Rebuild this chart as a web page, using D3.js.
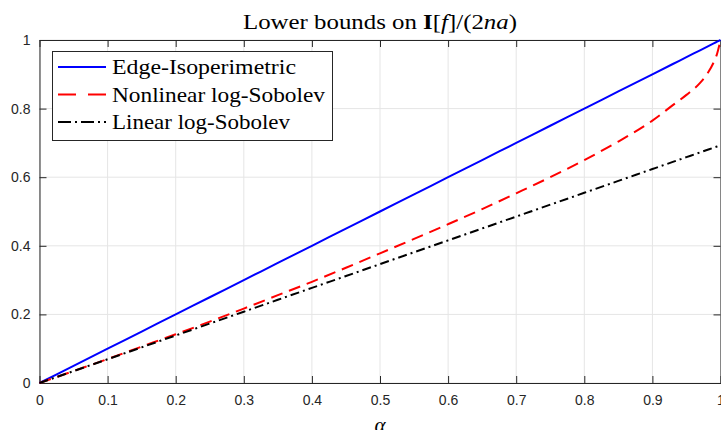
<!DOCTYPE html>
<html><head><meta charset="utf-8">
<script src="https://cdn.jsdelivr.net/npm/d3@7"></script>
<style>body{margin:0;background:#fff;overflow:hidden}svg{display:block}</style>
</head><body>
<svg id="c" width="721" height="430"></svg>
<script>
const alphaVals = [0,0.05,0.1,0.15,0.2,0.25,0.3,0.35,0.4,0.45,0.5,0.55,0.6,0.65,0.7,0.75,0.8,0.85,0.9,0.93,0.95,0.97,0.98,0.99,0.995,1];
const edgeIso = [0,0.05,0.1,0.15,0.2,0.25,0.3,0.35,0.4,0.45,0.5,0.55,0.6,0.65,0.7,0.75,0.8,0.85,0.9,0.93,0.95,0.97,0.98,0.99,0.995,1];
const nonlinearLS = [0,0.035,0.070,0.106,0.142,0.179,0.217,0.256,0.295,0.336,0.378,0.42,0.463,0.507,0.553,0.60,0.650,0.704,0.765,0.81,0.84,0.875,0.90,0.935,0.96,1.0];
const linearLS = [0,0.0347,0.0693,0.104,0.1386,0.1733,0.2079,0.2426,0.2773,0.3119,0.3466,0.3812,0.4159,0.4505,0.4852,0.5199,0.5545,0.5892,0.6238,0.6446,0.6585,0.6724,0.6793,0.6862,0.6897,0.6931];
const xTicks = [0,0.1,0.2,0.3,0.4,0.5,0.6,0.7,0.8,0.9,1];
const yTicks = [0,0.2,0.4,0.6,0.8,1];
const legendLabels = ["Edge-Isoperimetric","Nonlinear log-Sobolev","Linear log-Sobolev"];

const svg = d3.select("#c");
const x = d3.scaleLinear().domain([0,1]).range([39.5,720.5]);
const y = d3.scaleLinear().domain([0,1]).range([383,40]);
const axisCol = "#262626";
const tickFont = "'Liberation Sans', Arial, Helvetica, sans-serif";
const serif = "'Liberation Serif', 'Times New Roman', serif";

// grid
const g = svg.append("g");
g.selectAll(".gx").data(xTicks).enter().append("line")
  .attr("x1",d=>x(d)).attr("x2",d=>x(d)).attr("y1",y(0)).attr("y2",y(1))
  .attr("stroke","#e5e5e5").attr("stroke-width",1);
g.selectAll(".gy").data(yTicks).enter().append("line")
  .attr("y1",d=>y(d)).attr("y2",d=>y(d)).attr("x1",x(0)).attr("x2",x(1))
  .attr("stroke","#e5e5e5").attr("stroke-width",1);

// axes
const xAxis = d3.axisBottom(x).tickValues(xTicks).tickSizeInner(-7).tickSizeOuter(0).tickPadding(12)
  .tickFormat(d=>d===0?"0":(d===1?"1":d3.format(".1f")(d)));
const xa = svg.append("g").attr("transform",`translate(0,${y(0)})`).call(xAxis);
const yAxis = d3.axisLeft(y).tickValues(yTicks).tickSizeInner(-7).tickSizeOuter(0).tickPadding(9)
  .tickFormat(d=>d===0?"0":(d===1?"1":d3.format(".1f")(d)));
const ya = svg.append("g").attr("transform",`translate(${x(0)},0)`).call(yAxis);
const xt = svg.append("g").attr("transform",`translate(0,${y(1)})`).call(d3.axisTop(x).tickValues(xTicks).tickSizeInner(-7).tickSizeOuter(0).tickFormat(""));
const yr = svg.append("g").attr("transform",`translate(${x(1)},0)`).call(d3.axisRight(y).tickValues(yTicks).tickSizeInner(-7).tickSizeOuter(0).tickFormat(""));
[xa,ya,xt,yr].forEach(a=>{
  a.select(".domain").attr("stroke",axisCol).attr("stroke-width",1);
  a.selectAll(".tick line").attr("stroke",axisCol);
  a.selectAll(".tick text").attr("fill",axisCol).style("font-family",tickFont).style("font-size","14px");
});

// lines
const series = [
  {vals:edgeIso, color:"#0000ff", dash:null},
  {vals:nonlinearLS, color:"#ff0000", dash:"12,7"},
  {vals:linearLS, color:"#000000", dash:"9,4,2,4"}
];
const line = d3.line().x((d,i)=>x(alphaVals[i])).y(d=>y(d)).curve(d3.curveMonotoneX);
series.forEach(s=>{
  svg.append("path").datum(s.vals).attr("d",line).attr("fill","none")
    .attr("stroke",s.color).attr("stroke-width",2)
    .attr("stroke-dasharray",s.dash);
});

// legend
const lg = svg.append("g");
lg.append("rect").attr("x",52.5).attr("y",51.5).attr("width",280).attr("height",89)
  .attr("fill","#fff").attr("stroke",axisCol).attr("stroke-width",1);
const rowsY = [74,101.5,129];
const widths = [184,213,178];
legendLabels.forEach((t,i)=>{
  const yy = rowsY[i]-7;
  lg.append("line").attr("x1",58).attr("x2",106).attr("y1",yy).attr("y2",yy)
    .attr("stroke",series[i].color).attr("stroke-width",2)
    .attr("stroke-dasharray",series[i].dash ? (i===1?"18,12":"13,4,2,4") : null);
  lg.append("text").attr("x",112).attr("y",rowsY[i]).text(t)
    .attr("textLength",widths[i]).attr("lengthAdjust","spacingAndGlyphs")
    .style("font-family",serif).style("font-size","21px").attr("fill","#000");
});

// title
const tt = svg.append("text").attr("x",380).attr("y",29).attr("text-anchor","middle")
  .style("font-family",serif).style("font-size","20px").attr("fill","#000")
  .attr("textLength",274).attr("lengthAdjust","spacingAndGlyphs");
tt.append("tspan").text("Lower bounds on ");
tt.append("tspan").text("I").style("font-weight","bold");
tt.append("tspan").text("[");
tt.append("tspan").text("f").style("font-style","italic");
tt.append("tspan").text("]/(2");
tt.append("tspan").text("na").style("font-style","italic");
tt.append("tspan").text(")");

// x label
svg.append("text").attr("x",380).attr("y",432).attr("text-anchor","middle")
  .style("font-family",serif).style("font-style","italic").style("font-size","21px")
  .attr("fill","#000").text("α");
</script>
</body></html>
